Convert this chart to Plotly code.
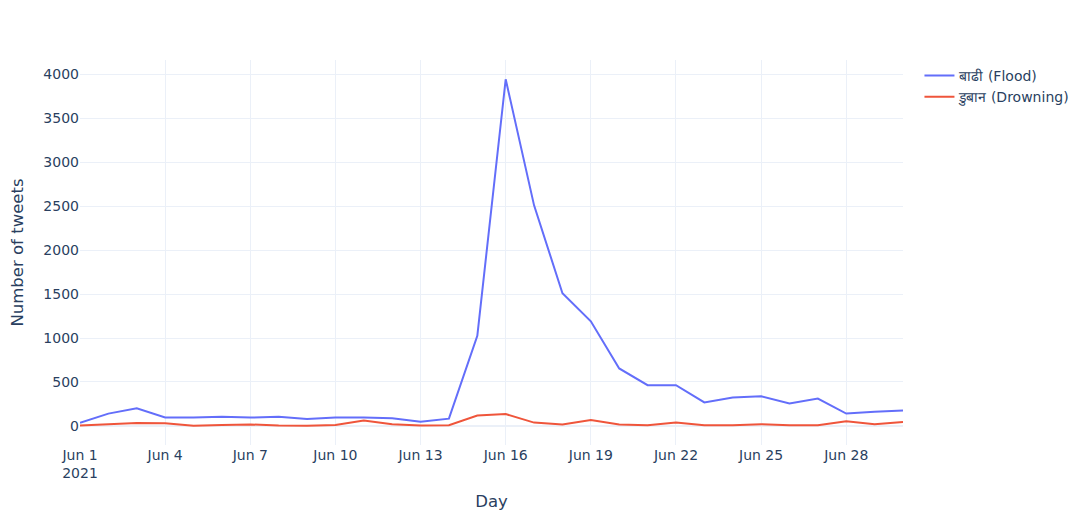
import pandas as pd
import plotly.graph_objects as go

# Daily tweet counts, June 2021
days = pd.date_range('2021-06-01', '2021-06-30', freq='D')

flood = [35, 140, 200, 96, 96, 103, 95, 103, 80, 96,
         96, 87, 49, 83, 1025, 3945, 2510, 1510, 1190, 654,
         464, 464, 267, 324, 338, 255, 312, 141, 160, 175]

drowning = [4, 19, 32, 30, 2, 11, 17, 4, 2, 11,
            61, 19, 4, 8, 118, 135, 38, 15, 68, 15,
            8, 38, 8, 8, 19, 8, 8, 53, 19, 46]

series_names = ['बाढी (Flood)', 'डुबान (Drowning)']

fig = go.Figure()

fig.add_trace(go.Scatter(x=days, y=flood, mode='lines', name=series_names[0],
                         line=dict(color='#636efa', width=2)))
fig.add_trace(go.Scatter(x=days, y=drowning, mode='lines', name=series_names[1],
                         line=dict(color='#EF553B', width=2)))

# the page body adds 8px around the figure, so margins allow for it
fig.update_layout(
    template='plotly_white',
    width=1089,
    height=525,
    margin=dict(t=52, b=88, l=72, r=194),
    font=dict(family='Verdana, DejaVu Sans, sans-serif', size=14),
    legend=dict(font=dict(size=14)),
)

fig.update_xaxes(title_text='Day', title_font=dict(size=16.5),
                 tick0='2021-06-01', dtick=3 * 86400000, automargin=False)
fig.update_yaxes(title_text='Number of tweets', title_font=dict(size=16.5),
                 automargin=False)

fig.write_html('out.html')
